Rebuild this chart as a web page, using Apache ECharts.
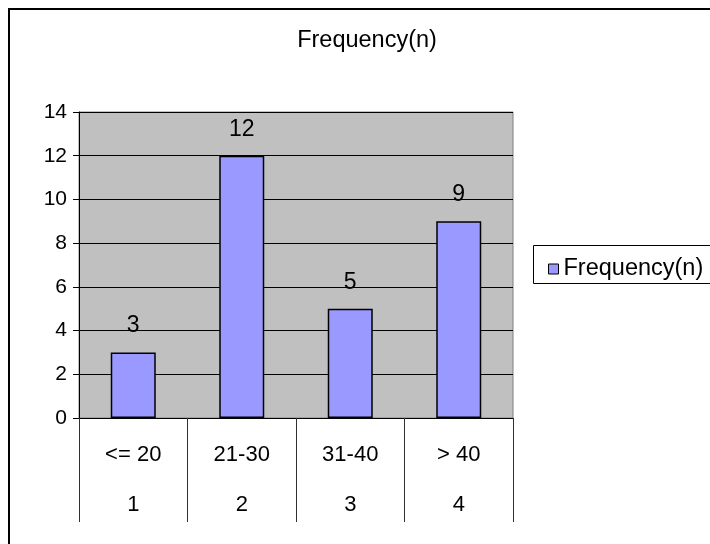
<!DOCTYPE html>
<html>
<head>
<meta charset="utf-8">
<script src="https://cdn.jsdelivr.net/npm/echarts@6/dist/echarts.min.js"></script>
<style>
  html, body { margin: 0; padding: 0; background: #fff; }
  #chart { width: 710px; height: 544px; }
</style>
</head>
<body>
<div id="chart"></div>
<script>
// Age groups with their index row, and the count in each group
const ageGroups = ['<= 20', '21-30', '31-40', '> 40'];
const groupIndex = ['1', '2', '3', '4'];
const frequency = [3, 12, 5, 9];
const yTicks = [0, 14, 2];  // min, max, step
const chartTitle = 'Frequency(n)';

const FONT = '"Liberation Sans", Arial, sans-serif';
const chart = echarts.init(document.getElementById('chart'));

chart.setOption({
  animation: false,
  backgroundColor: '#ffffff',
  textStyle: { fontFamily: FONT },
  title: {
    text: chartTitle,
    left: 362,
    textAlign: 'center',
    top: 24,
    textStyle: { fontFamily: FONT, fontSize: 23.5, fontWeight: 'normal', color: '#000' }
  },
  legend: {
    left: 543,
    top: 252,
    icon: 'rect',
    itemWidth: 10,
    itemHeight: 10,
    itemGap: 0,
    textStyle: { fontFamily: FONT, fontSize: 23.5, color: '#000', padding: [0, 0, 0, 0] },
    data: [{ name: 'Frequency(n)', itemStyle: { borderColor: '#000', borderWidth: 1 } }]
  },
  grid: {
    left: 79, right: 197, top: 112, bottom: 126,
    show: true,
    backgroundColor: '#c0c0c0',
    borderColor: '#808080',
    borderWidth: 1
  },
  xAxis: {
    type: 'category',
    data: ageGroups.map((g, i) => g + '\n\n' + groupIndex[i]),
    axisLine: { lineStyle: { color: '#000', width: 1 } },
    axisTick: { show: true, length: 104, lineStyle: { color: '#303030', width: 1 } },
    axisLabel: {
      fontFamily: FONT, fontSize: 22, color: '#000',
      lineHeight: 25, margin: 24
    }
  },
  yAxis: {
    type: 'value',
    min: yTicks[0],
    max: yTicks[1],
    interval: yTicks[2],
    axisLine: { show: true, lineStyle: { color: '#000', width: 1 } },
    axisTick: { show: true, length: 6, lineStyle: { color: '#000' } },
    axisLabel: { fontFamily: FONT, fontSize: 21, color: '#000', margin: 12 },
    splitLine: { lineStyle: { color: '#000', width: 1 } }
  },
  series: [{
    name: 'Frequency(n)',
    type: 'bar',
    data: frequency,
    barWidth: 45,
    itemStyle: { color: '#9999ff', borderColor: '#000', borderWidth: 1.5 },
    label: {
      show: true, position: 'top', distance: 15,
      fontFamily: FONT, fontSize: 23, color: '#000'
    }
  }],
  graphic: [
    {
      // outer chart frame
      type: 'rect',
      shape: { x: 9, y: 9, width: 720, height: 560 },
      style: { fill: null, stroke: '#000', lineWidth: 2 },
      z: -1
    },
    {
      // legend frame
      type: 'rect',
      shape: { x: 533.5, y: 245.5, width: 200, height: 38 },
      style: { fill: null, stroke: '#000', lineWidth: 1 },
      z: -1
    }
  ]
});
</script>
</body>
</html>
